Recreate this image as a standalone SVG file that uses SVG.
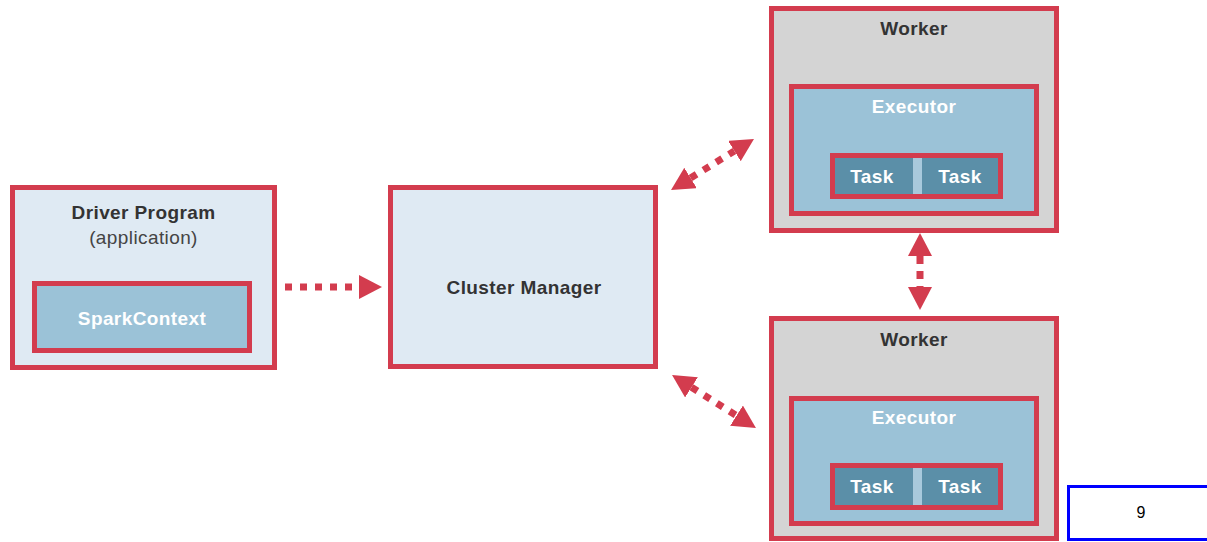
<svg xmlns="http://www.w3.org/2000/svg" width="1207" height="542" viewBox="0 0 1207 542">
  <style>
    .frame { stroke: #d33c4e; stroke-width: 5; }
    .pale { fill: #dfeaf3; }
    .mid { fill: #9bc2d7; }
    .grey { fill: #d4d4d4; }
    .task { fill: #5b8fa8; }
    .lbl { font-family: "Liberation Sans", Arial, sans-serif; font-size: 19px; font-weight: bold; text-anchor: middle; letter-spacing: 0.4px; }
    .dark { fill: #333333; }
    .light { fill: #ffffff; }
    .sub { font-weight: normal; fill: #444444; }
    .link { stroke: #d33c4e; stroke-width: 7; fill: none; stroke-dasharray: 7 8; }
  </style>
  <defs>
    <marker id="head" markerUnits="userSpaceOnUse" viewBox="0 0 23 24" markerWidth="23" markerHeight="24" refX="0" refY="12" orient="auto-start-reverse">
      <path d="M0,0 L23,12 L0,24 z" fill="#d33c4e"/>
    </marker>
  </defs>

  <rect width="1207" height="542" fill="#ffffff"/>

  <!-- Driver program with its SparkContext -->
  <g id="driver">
    <rect class="frame pale" x="12.5" y="187.5" width="262" height="180"/>
    <text class="lbl dark" x="143.5" y="219">Driver Program</text>
    <text class="lbl sub" x="143.5" y="244">(application)</text>
    <g id="sparkcontext">
      <rect class="frame mid" x="34.5" y="283.5" width="215" height="67"/>
      <text class="lbl light" x="142" y="325">SparkContext</text>
    </g>
  </g>

  <!-- Cluster manager -->
  <g id="cluster-manager">
    <rect class="frame pale" x="390.5" y="187.5" width="265" height="179"/>
    <text class="lbl dark" x="524" y="294">Cluster Manager</text>
  </g>

  <!-- Worker nodes -->
  <g id="worker-1">
    <rect class="frame grey" x="771.5" y="8.5" width="285" height="222"/>
    <text class="lbl dark" x="914" y="35">Worker</text>
    <g id="executor-1">
      <rect class="frame mid" x="791.5" y="86.5" width="245" height="127"/>
      <text class="lbl light" x="914" y="113">Executor</text>
      <rect class="frame" x="832.5" y="155.5" width="168" height="41" fill="#a8c9dc"/>
      <rect class="task" x="835" y="158" width="78" height="36"/>
      <rect class="task" x="922" y="158" width="76" height="36"/>
      <text class="lbl light" x="872" y="183">Task</text>
      <text class="lbl light" x="960" y="183">Task</text>
    </g>
  </g>

  <g id="worker-2">
    <rect class="frame grey" x="771.5" y="318.5" width="285" height="220"/>
    <text class="lbl dark" x="914" y="346">Worker</text>
    <g id="executor-2">
      <rect class="frame mid" x="791.5" y="398.5" width="245" height="125"/>
      <text class="lbl light" x="914" y="424">Executor</text>
      <rect class="frame" x="832.5" y="465.5" width="168" height="42" fill="#a8c9dc"/>
      <rect class="task" x="835" y="468" width="78" height="37"/>
      <rect class="task" x="922" y="468" width="76" height="37"/>
      <text class="lbl light" x="872" y="493">Task</text>
      <text class="lbl light" x="960" y="493">Task</text>
    </g>
  </g>

  <!-- Connectors -->
  <g id="connectors">
    <path class="link" d="M285,287 L359,287" marker-end="url(#head)"/>
    <path class="link" d="M690.6,178 L734.4,151" marker-start="url(#head)" marker-end="url(#head)"/>
    <path class="link" d="M691.5,387.3 L736.5,415.7" marker-start="url(#head)" marker-end="url(#head)"/>
    <path class="link" d="M920,256 L920,287" marker-start="url(#head)" marker-end="url(#head)" style="stroke-dasharray: 8 7"/>
  </g>

  <!-- Page number -->
  <g id="page-number">
    <rect x="1068.5" y="486.5" width="150" height="53" fill="#ffffff" stroke="#0000ff" stroke-width="3"/>
    <text x="1141" y="518" font-family="Liberation Sans, Arial, sans-serif" font-size="16" text-anchor="middle" fill="#000000">9</text>
  </g>
</svg>
